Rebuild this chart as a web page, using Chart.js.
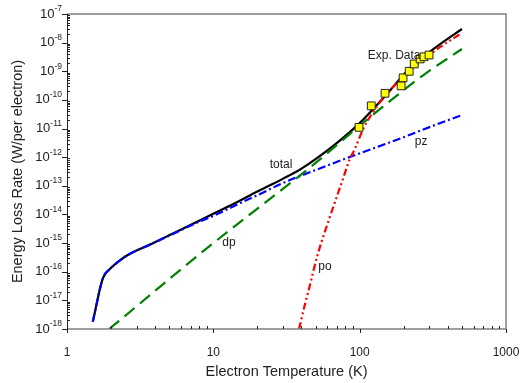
<!DOCTYPE html>
<html>
<head>
<meta charset="utf-8">
<script src="https://cdn.jsdelivr.net/npm/chart.js@4.4.1/dist/chart.umd.min.js"></script>
<style>
  html, body { margin: 0; padding: 0; background: #fff; }
  #wrap { width: 520px; height: 383px; }
</style>
</head>
<body>
<div id="wrap"><canvas id="myChart"></canvas></div>
<script>
// electron temperature (K) and energy loss rate (W per electron)
const totalT    = [1.5, 1.76, 1.97, 2.3, 2.62, 3.8, 5.7, 8, 10, 13.7, 20, 30, 40, 66, 100, 150, 220, 340, 500];
const totalRate = [1.78e-18, 6.0e-17, 1.26e-16, 2.5e-16, 3.9e-16, 9.5e-16, 2.6e-15, 6.0e-15, 1.05e-14,
                   2.3e-14, 6.3e-14, 1.78e-13, 4.0e-13, 2.5e-12, 1.55e-11, 1.41e-10, 1.26e-9, 7.6e-9, 3.0e-8];

const pzT    = [1.5, 1.76, 1.97, 2.3, 2.62, 3.8, 5.7, 8, 10, 15, 20, 30, 50, 80, 120, 200, 300, 500];
const pzRate = [1.78e-18, 6.0e-17, 1.26e-16, 2.5e-16, 3.9e-16, 9.5e-16, 2.5e-15, 5.6e-15, 8.9e-15,
                2.4e-14, 4.7e-14, 1.26e-13, 3.55e-13, 8.9e-13, 1.9e-12, 5.0e-12, 1.12e-11, 2.95e-11];

const dpT    = [1.94, 3, 5, 10, 20, 50, 100, 160, 270, 500];
const dpRate = [1.0e-18, 6.3e-18, 5.6e-17, 1.0e-15, 1.6e-14, 6.3e-13, 1.26e-11, 8.9e-11, 7.1e-10, 6.0e-9];

const poT    = [38.5, 42, 45.8, 51, 61, 73.5, 86, 93, 106, 124, 145, 210, 319, 500];
const poRate = [1.0e-18, 6.3e-18, 3.5e-17, 3.2e-16, 5.6e-15, 8.9e-14, 8.9e-13, 2.0e-12, 1.0e-11,
                3.9e-11, 1.15e-10, 8.5e-10, 4.8e-9, 2.2e-8];

const expT    = [99, 120, 149, 192, 198, 218, 236, 259, 275, 298];
const expRate = [1.1e-11, 6.2e-11, 1.7e-10, 3.1e-10, 5.9e-10, 1.0e-9, 1.8e-9, 2.7e-9, 3.2e-9, 3.7e-9];

const xTickLabels = ['1', '10', '100', '1000'];
const yTickExps = [-18, -17, -16, -15, -14, -13, -12, -11, -10, -9, -8, -7];

const FONT = '"Liberation Sans", Arial, sans-serif';

function pts(xs, ys) {
    return xs.map((x, i) => ({ x: x, y: ys[i] }));
}

// curve names written next to the curves, anchored in data units
const curveLabels = [
    { text: 'Exp. Data', x: 172, y: 3.6e-9 },
    { text: 'total', x: 29, y: 5.4e-13 },
    { text: 'pz', x: 263, y: 3.4e-12 },
    { text: 'dp', x: 12.8, y: 1.0e-15 },
    { text: 'po', x: 58, y: 1.5e-16 }
];

const axisDecor = {
    id: 'axisDecor',
    afterDraw(chart) {
        const ctx = chart.ctx;
        const a = chart.chartArea;
        const xs = chart.scales.x;
        const ys = chart.scales.y;
        ctx.save();

        // frame
        ctx.strokeStyle = '#808080';
        ctx.lineWidth = 1.5;
        ctx.beginPath();
        ctx.moveTo(a.left, a.top); ctx.lineTo(a.right, a.top);
        ctx.lineTo(a.right, a.bottom); ctx.lineTo(a.left, a.bottom);
        ctx.stroke();
        ctx.strokeStyle = '#222';
        ctx.lineWidth = 1;
        ctx.beginPath();
        ctx.moveTo(a.left + 0.5, a.top); ctx.lineTo(a.left + 0.5, a.bottom);
        ctx.stroke();

        // x ticks: decades point out, minor ticks point in
        ctx.beginPath();
        xTickLabels.forEach((lab, i) => {
            const dec = Math.pow(10, i);
            const px = Math.round(xs.getPixelForValue(dec)) + 0.5;
            ctx.moveTo(px, a.bottom); ctx.lineTo(px, a.bottom + 4);
            if (i < xTickLabels.length - 1) {
                for (let m = 2; m <= 9; m++) {
                    const mx = Math.round(xs.getPixelForValue(dec * m)) + 0.5;
                    ctx.moveTo(mx, a.bottom); ctx.lineTo(mx, a.bottom - 3);
                }
            }
        });
        // y ticks
        yTickExps.forEach((e, i) => {
            const dec = Math.pow(10, e);
            const py = Math.round(ys.getPixelForValue(dec)) + 0.5;
            ctx.moveTo(a.left - 5, py); ctx.lineTo(a.left, py);
            if (i < yTickExps.length - 1) {
                for (let m = 2; m <= 9; m++) {
                    const my = Math.round(ys.getPixelForValue(dec * m)) + 0.5;
                    ctx.moveTo(a.left, my); ctx.lineTo(a.left + 3, my);
                }
            }
        });
        ctx.stroke();

        // x tick labels
        ctx.fillStyle = '#222';
        ctx.font = '12px ' + FONT;
        ctx.textAlign = 'center';
        ctx.textBaseline = 'middle';
        xTickLabels.forEach((lab, i) => {
            ctx.fillText(lab, xs.getPixelForValue(Math.pow(10, i)), a.bottom + 24);
        });

        // y tick labels: 10 with raised exponent
        ctx.textAlign = 'left';
        yTickExps.forEach(e => {
            const py = ys.getPixelForValue(Math.pow(10, e));
            const sup = String(e);
            ctx.font = '8.5px ' + FONT;
            const sw = ctx.measureText(sup).width;
            ctx.font = '13px ' + FONT;
            const bw = ctx.measureText('10').width;
            const right = a.left - 5;
            ctx.fillText('10', right - sw - bw, py);
            ctx.font = '8.5px ' + FONT;
            ctx.fillText(sup, right - sw, py - 5);
        });

        // curve names
        ctx.font = '12px ' + FONT;
        ctx.textAlign = 'center';
        curveLabels.forEach(l => {
            ctx.fillText(l.text, xs.getPixelForValue(l.x), ys.getPixelForValue(l.y));
        });
        ctx.restore();
    }
};

const ctx = document.getElementById('myChart').getContext('2d');
const chart = new Chart(ctx, {
    type: 'line',
    data: {
        datasets: [
            {
                label: 'Exp. Data',
                data: pts(expT, expRate),
                showLine: false,
                pointStyle: 'rect',
                pointRadius: 5.5,
                backgroundColor: '#ffff00',
                borderColor: '#222',
                pointBorderWidth: 1,
                order: 0
            },
            {
                label: 'po',
                data: pts(poT, poRate),
                borderColor: '#ff0000',
                borderWidth: 2.2,
                borderDash: [7, 3, 2, 3, 2, 3],
                pointRadius: 0,
                cubicInterpolationMode: 'monotone',
                order: 2
            },
            {
                label: 'dp',
                data: pts(dpT, dpRate),
                borderColor: '#008000',
                borderWidth: 2.2,
                borderDash: [13, 7],
                pointRadius: 0,
                cubicInterpolationMode: 'monotone',
                order: 3
            },
            {
                label: 'pz',
                data: pts(pzT, pzRate),
                borderColor: '#0000ff',
                borderWidth: 2.2,
                borderDash: [8, 3, 2, 3],
                pointRadius: 0,
                cubicInterpolationMode: 'monotone',
                order: 4
            },
            {
                label: 'total',
                data: pts(totalT, totalRate),
                borderColor: '#000000',
                borderWidth: 2.2,
                pointRadius: 0,
                cubicInterpolationMode: 'monotone',
                order: 5
            }
        ]
    },
    options: {
        responsive: true,
        maintainAspectRatio: false,
        animation: false,
        layout: { padding: { top: 14, right: 14, left: 0, bottom: 0 } },
        plugins: { legend: { display: false }, tooltip: { enabled: false } },
        scales: {
            x: {
                type: 'logarithmic',
                min: 1,
                max: 1000,
                grid: { display: false },
                border: { display: false },
                ticks: { display: false },
                title: {
                    display: true,
                    text: 'Electron Temperature (K)',
                    color: '#222',
                    font: { family: FONT, size: 14.5 },
                    padding: { top: 0, bottom: 2 }
                },
                afterFit(scale) { scale.height = 54; }
            },
            y: {
                type: 'logarithmic',
                min: 1e-18,
                max: 1e-7,
                grid: { display: false },
                border: { display: false },
                ticks: { display: false },
                title: {
                    display: true,
                    text: 'Energy Loss Rate (W/per electron)',
                    color: '#222',
                    font: { family: FONT, size: 14.5 },
                    padding: { top: 9, bottom: 0 }
                },
                afterFit(scale) { scale.width = 67; }
            }
        }
    },
    plugins: [axisDecor]
});
</script>
</body>
</html>
